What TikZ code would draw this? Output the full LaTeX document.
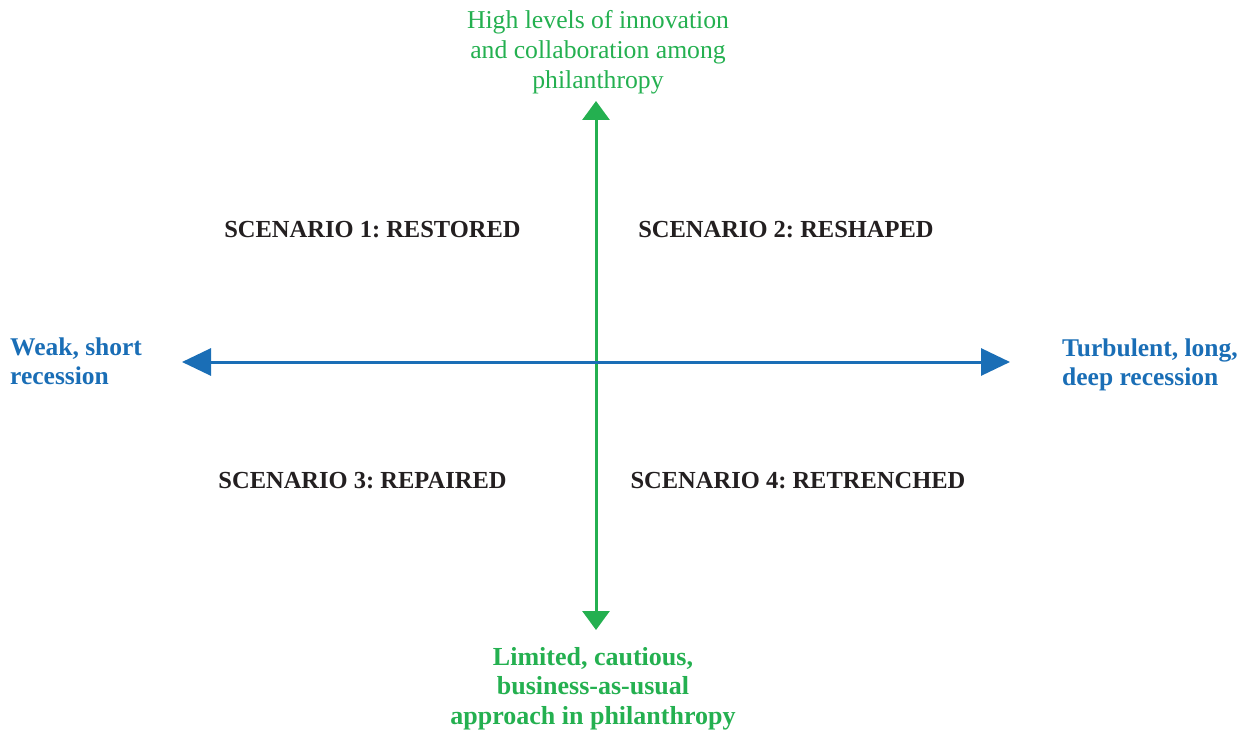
\documentclass[tikz,border=0pt]{standalone}
\usepackage{fontspec}
\setmainfont{Liberation Serif}
\usepackage{xcolor}
\usetikzlibrary{arrows.meta}
\definecolor{axisgreen}{RGB}{36,176,80}
\definecolor{axisblue}{RGB}{26,110,182}
\definecolor{textdark}{RGB}{35,31,32}
\frenchspacing

\begin{document}
\begin{tikzpicture}[x=1pt, y=-1pt,
        greenlabel/.style={axisgreen, align=center, inner sep=0pt, anchor=base},
        bluelabel/.style={axisblue, align=left, inner sep=0pt, anchor=base west, font=\fontsize{25.5}{28.5}\selectfont\bfseries},
        scenario/.style={textdark, inner sep=0pt, anchor=base, font=\fontsize{24.5}{29}\selectfont\bfseries},
        vtip/.tip={Triangle[length=19pt, width=27pt]},
        htip/.tip={Triangle[length=29pt, width=27pt]}]
        \useasboundingbox (0,0) rectangle (1252,730);
        %AXIS ENDS
        \coordinate (top) at (596,101);
        \coordinate (bottom) at (596,630);
        \coordinate (left) at (182,362);
        \coordinate (right) at (1010,362);
        %GARIS VERTIKAL
        \draw[axisgreen, line width=3pt, vtip-vtip] (top) -- (bottom);
        %GARIS HORIZONTAL
        \draw[axisblue, line width=3pt, htip-htip] (left) -- (right);
        %AXIS LABELS (base = last line)
        \node[greenlabel, font=\fontsize{25.7}{30}\selectfont] (high) at (598,89) {High levels of innovation\\and collaboration among\\philanthropy};
        \node[greenlabel, font=\fontsize{26}{29.3}\selectfont\bfseries] (limited) at (593,724) {Limited, cautious,\\business-as-usual\\approach in philanthropy};
        \node[bluelabel] (weak) at (10,384) {Weak, short\\recession};
        \node[bluelabel] (turbulent) at (1062,385) {Turbulent, long,\\deep recession};
        %SCENARIOS
        \node[scenario] (restored) at (372.5,237) {SCENARIO 1: RESTORED};
        \node[scenario] (reshaped) at (786,237) {SCENARIO 2: RESHAPED};
        \node[scenario] (repaired) at (362.5,488) {SCENARIO 3: REPAIRED};
        \node[scenario] (retrenched) at (798,488) {SCENARIO 4: RETRENCHED};
\end{tikzpicture}
\end{document}
